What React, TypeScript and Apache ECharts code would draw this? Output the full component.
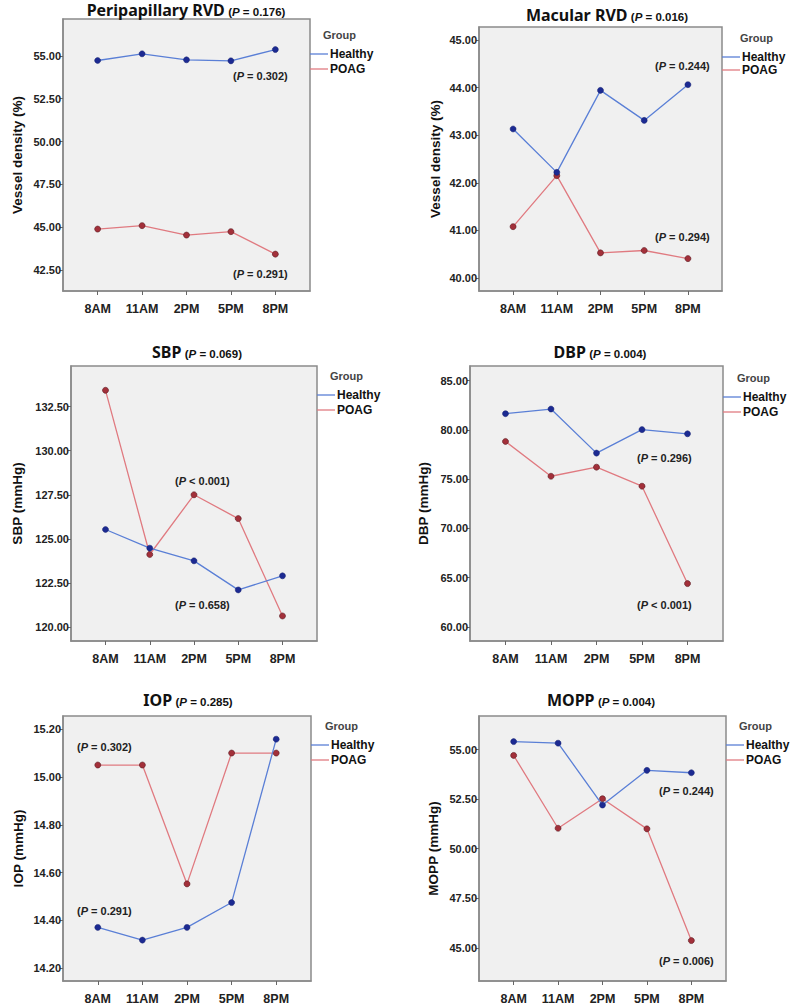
import React, { useEffect, useRef } from "react";
import * as echarts from "echarts";

// ---- data ----
const categories = ["8AM", "11AM", "2PM", "5PM", "8PM"];

const peripapillaryHealthy = [54.73, 55.12, 54.77, 54.71, 55.37];
const peripapillaryPOAG = [44.9, 45.1, 44.55, 44.75, 43.44];
const peripapillaryTicks = [42.5, 45, 47.5, 50, 52.5, 55];

const macularHealthy = [43.13, 42.22, 43.94, 43.31, 44.06];
const macularPOAG = [41.08, 42.15, 40.53, 40.58, 40.41];
const macularTicks = [40, 41, 42, 43, 44, 45];

const sbpHealthy = [125.53, 124.47, 123.75, 122.1, 122.9];
const sbpPOAG = [133.43, 124.11, 127.5, 126.15, 120.62];
const sbpTicks = [120, 122.5, 125, 127.5, 130, 132.5];

const dbpHealthy = [81.65, 82.12, 77.65, 80.03, 79.61];
const dbpPOAG = [78.83, 75.3, 76.22, 74.29, 64.41];
const dbpTicks = [60, 65, 70, 75, 80, 85];

const iopHealthy = [14.371, 14.318, 14.371, 14.475, 15.158];
const iopPOAG = [15.05, 15.05, 14.553, 15.1, 15.1];
const iopTicks = [14.2, 14.4, 14.6, 14.8, 15.0, 15.2];

const moppHealthy = [55.4, 55.32, 52.2, 53.95, 53.83];
const moppPOAG = [54.7, 51.03, 52.52, 51.0, 45.37];
const moppTicks = [45, 47.5, 50, 52.5, 55];

const titles = ["Peripapillary RVD", "Macular RVD", "SBP", "DBP", "IOP", "MOPP"];
const overallP = ["= 0.176", "= 0.016", "= 0.069", "= 0.004", "= 0.285", "= 0.004"];
const yNames = ["Vessel density (%)", "Vessel density (%)", "SBP (mmHg)", "DBP (mmHg)", "IOP (mmHg)", "MOPP (mmHg)"];
const healthyP = ["= 0.302", "= 0.244", "= 0.658", "= 0.296", "= 0.291", "= 0.244"];
const poagP = ["= 0.291", "= 0.294", "< 0.001", "< 0.001", "= 0.302", "= 0.006"];
const groupNames = ["Healthy", "POAG"];

// ---- layout (pixels) ----
const layout = [
  { box: [63, 310, 19, 291], yMin: 41.29, yMax: 57.15, titleX: 186, titleY: 10, nameGap: 39, legY: [35, 54, 69], legX: 323, hAnn: [233, 76], pAnn: [233, 274] },
  { box: [479, 722, 27, 291], yMin: 39.73, yMax: 45.27, titleX: 607, titleY: 15, nameGap: 37, legY: [38, 57, 70], legX: 740, hAnn: [655, 66], pAnn: [655, 237] },
  { box: [71, 317, 366, 641], yMin: 119.2, yMax: 134.81, titleX: 197, titleY: 352, nameGap: 47, legY: [376, 395, 410], legX: 330, hAnn: [175, 605], pAnn: [175, 481] },
  { box: [470, 723, 366, 641], yMin: 58.58, yMax: 86.49, titleX: 600, titleY: 352, nameGap: 40, legY: [378, 397, 412], legX: 737, hAnn: [637, 458], pAnn: [637, 605] },
  { box: [63, 311, 716, 982], yMin: 14.147, yMax: 15.255, titleX: 188, titleY: 700, nameGap: 38, legY: [726, 745, 760], legX: 325, hAnn: [77, 911], pAnn: [77, 747] },
  { box: [479, 726, 716, 982], yMin: 43.33, yMax: 56.69, titleX: 601, titleY: 700, nameGap: 39, legY: [726, 745, 760], legX: 739, hAnn: [659, 791], pAnn: [659, 961] },
];

const healthySets = [peripapillaryHealthy, macularHealthy, sbpHealthy, dbpHealthy, iopHealthy, moppHealthy];
const poagSets = [peripapillaryPOAG, macularPOAG, sbpPOAG, dbpPOAG, iopPOAG, moppPOAG];
const tickSets = [peripapillaryTicks, macularTicks, sbpTicks, dbpTicks, iopTicks, moppTicks];

const FONT = "'Liberation Sans', Arial, sans-serif";
const TITLE_FONT = "'Noto Sans', 'Liberation Sans', sans-serif";
const H_LINE = "#5a7fd6";
const H_MARK = "#1c2a92";
const P_LINE = "#e07a80";
const P_MARK = "#a3303a";

const annRich = {
  b: { fontFamily: FONT, fontWeight: "bold", fontSize: 11, fill: "#222", color: "#222" },
  i: { fontFamily: FONT, fontWeight: "bold", fontStyle: "italic", fontSize: 11, fill: "#222", color: "#222" },
};

function annText(x: number, y: number, s: string) {
  return {
    type: "text",
    x,
    y,
    style: {
      text: `{b|(}{i|P}{b| ${s})}`,
      rich: annRich,
      align: "left",
      verticalAlign: "middle",
      textAlign: "left",
      textVerticalAlign: "middle",
    },
  };
}

export default function App() {
  const ref = useRef<HTMLDivElement>(null);
  useEffect(() => {
    if (!ref.current) return;
    const chart = echarts.init(ref.current, undefined, { renderer: "svg" });

    const grid = layout.map((l) => ({
      left: l.box[0],
      top: l.box[2],
      width: l.box[1] - l.box[0],
      height: l.box[3] - l.box[2],
      show: true,
      backgroundColor: "#f0f0f0",
      borderColor: "#8a8a8a",
      borderWidth: 1.5,
      containLabel: false,
    }));

    const xAxis = layout.map((l, i) => ({
      type: "value",
      gridIndex: i,
      min: -0.78,
      max: 4.78,
      splitLine: { show: false },
      axisLine: { show: true, onZero: false, lineStyle: { color: "#8a8a8a", width: 1.5 } },
      axisTick: { show: true, length: 4, lineStyle: { color: "#666" }, customValues: [0, 1, 2, 3, 4] },
      axisLabel: {
        customValues: [0, 1, 2, 3, 4],
        formatter: (v: number) => categories[Math.round(v)],
        fontFamily: FONT,
        fontWeight: "bold",
        fontSize: 12.5,
        color: "#222",
        margin: 11,
      },
    }));

    const yAxis = layout.map((l, i) => ({
      type: "value",
      gridIndex: i,
      min: l.yMin,
      max: l.yMax,
      splitLine: { show: false },
      axisLine: { show: true, onZero: false, lineStyle: { color: "#8a8a8a", width: 1.5 } },
      axisTick: { show: true, length: 3, lineStyle: { color: "#666" }, customValues: tickSets[i] },
      axisLabel: {
        customValues: tickSets[i],
        formatter: (v: number) => v.toFixed(2),
        fontFamily: FONT,
        fontWeight: "bold",
        fontSize: 11,
        color: "#222",
        margin: 2,
      },
      name: yNames[i],
      nameLocation: "middle",
      nameRotate: 90,
      nameGap: l.nameGap,
      nameTextStyle: { fontFamily: FONT, fontWeight: "bold", fontSize: 13.5, color: "#111" },
    }));

    const series: any[] = [];
    layout.forEach((l, i) => {
      series.push({
        type: "line",
        name: "Healthy",
        xAxisIndex: i,
        yAxisIndex: i,
        data: healthySets[i].map((v, j) => [j, v]),
        symbol: "circle",
        symbolSize: 6,
        lineStyle: { color: H_LINE, width: 1.3 },
        itemStyle: { color: H_MARK, borderColor: "#14206e", borderWidth: 0.5 },
        z: 3,
      });
      series.push({
        type: "line",
        name: "POAG",
        xAxisIndex: i,
        yAxisIndex: i,
        data: poagSets[i].map((v, j) => [j, v]),
        symbol: "circle",
        symbolSize: 6,
        lineStyle: { color: P_LINE, width: 1.3 },
        itemStyle: { color: P_MARK, borderColor: "#5a1a20", borderWidth: 0.6 },
        z: 2,
      });
    });

    const graphic: any[] = [];
    layout.forEach((l, i) => {
      graphic.push({
        type: "text",
        x: l.titleX,
        y: l.titleY,
        style: {
          text: `{t|${titles[i]}} {p|(}{pi|P}{p| ${overallP[i]})}`,
          rich: {
            t: { fontFamily: TITLE_FONT, fontWeight: "bold", fontSize: 16, fill: "#111", color: "#111", verticalAlign: "bottom" },
            p: { fontFamily: FONT, fontWeight: "bold", fontSize: 11.5, fill: "#111", color: "#111", verticalAlign: "bottom" },
            pi: { fontFamily: FONT, fontWeight: "bold", fontStyle: "italic", fontSize: 11.5, fill: "#111", color: "#111", verticalAlign: "bottom" },
          },
          align: "center",
          verticalAlign: "middle",
          textAlign: "center",
          textVerticalAlign: "middle",
        },
      });
      // legend
      graphic.push({
        type: "text",
        x: l.legX,
        y: l.legY[0],
        style: {
          text: "Group",
          font: `bold 11px ${FONT}`,
          fill: "#444",
          align: "left",
          verticalAlign: "middle",
          textAlign: "left",
          textVerticalAlign: "middle",
        },
      });
      groupNames.forEach((g, k) => {
        const y = l.legY[k + 1];
        graphic.push({
          type: "line",
          shape: { x1: l.box[1], y1: y, x2: l.box[1] + 18, y2: y },
          style: { stroke: k === 0 ? H_LINE : P_LINE, lineWidth: 1.3 },
        });
        graphic.push({
          type: "text",
          x: l.box[1] + 20,
          y,
          style: {
            text: g,
            font: `bold 12px ${FONT}`,
            fill: "#111",
            align: "left",
            verticalAlign: "middle",
            textAlign: "left",
            textVerticalAlign: "middle",
          },
        });
      });
      graphic.push(annText(l.hAnn[0], l.hAnn[1], healthyP[i]));
      graphic.push(annText(l.pAnn[0], l.pAnn[1], poagP[i]));
    });

    chart.setOption({
      animation: false,
      backgroundColor: "#ffffff",
      grid,
      xAxis,
      yAxis,
      series,
      graphic,
    });
    return () => chart.dispose();
  }, []);

  return <div ref={ref} style={{ position: "absolute", left: 0, top: 0, width: 800, height: 1005 }} />;
}
